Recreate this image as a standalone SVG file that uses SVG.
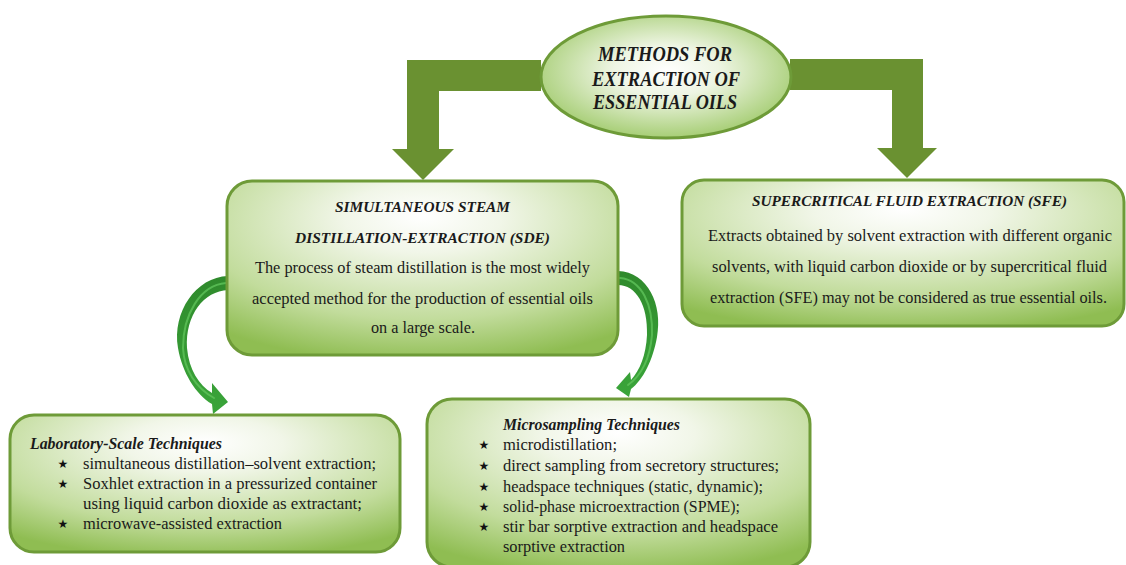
<svg xmlns="http://www.w3.org/2000/svg" width="1126" height="565" viewBox="0 0 1126 565">
<defs>
<radialGradient id="boxGrad" cx="0.5" cy="0.25" r="0.8" fx="0.5" fy="0.2">
<stop offset="0" stop-color="#ffffff"/>
<stop offset="0.25" stop-color="#f1f6e8"/>
<stop offset="0.7" stop-color="#c2dc9c"/>
<stop offset="1" stop-color="#8fbd52"/>
</radialGradient>
<radialGradient id="ellGrad" cx="0.5" cy="0.45" r="0.6">
<stop offset="0" stop-color="#ffffff"/>
<stop offset="0.35" stop-color="#eef5e3"/>
<stop offset="1" stop-color="#9cc865"/>
</radialGradient>
<linearGradient id="curveGrad" x1="0" y1="0" x2="0" y2="1">
<stop offset="0" stop-color="#2f8a2c"/>
<stop offset="1" stop-color="#3aa53a"/>
</linearGradient>
<style>
.box{fill:url(#boxGrad);stroke:#6e9b38;stroke-width:3}
.blk{fill:#6a9131}
.curve{fill:url(#curveGrad)}
.hl{fill:none;stroke:#5fc35a;stroke-width:2;stroke-linecap:round;opacity:0.8}
.t{font-family:"Liberation Serif","Times New Roman",serif;fill:#1a1a1a}
.ttl{font-weight:bold;font-style:italic}
.c{text-anchor:middle}
.star{font-family:"DejaVu Sans",sans-serif;font-size:12px;fill:#111;text-anchor:middle}
</style>
</defs>

<g id="connectors">
<path class="blk" d="M541 60 L407 60 L407 149 L392 149 L423 180 L454 149 L439 149 L439 91 L541 91 Z"/>
<path class="blk" d="M790 59 L923 59 L923 148 L937 148 L907 178 L877 148 L892 148 L892 90 L790 90 Z"/>
<path class="curve" d="M228 276 C196 277 172 312 178 348 C182 372 196 395 212 404 L213 414 L228 402 L212 383 L212 393 C199 385 189 370 187 348 C185 315 204 291 228 290 Z"/>
<path class="hl" d="M226 283 C200 285 183 315 183 348 C184 370 196 388 214 398"/>
<path class="curve" d="M618 271 C648 272 663 305 657 337 C653 360 643 380 631 389 L629 397 L616 388 L630 372 L631 380 C640 370 646 355 647 335 C648 305 636 285 618 285 Z"/>
<path class="hl" d="M620 278 C642 280 653 305 652 335 C650 358 642 375 628 385"/>
</g>

<g id="node-methods">
<ellipse cx="666" cy="77" rx="125" ry="61" fill="url(#ellGrad)" stroke="#6e9b38" stroke-width="3"/>
<text class="t ttl c" font-size="20" x="665" y="61" textLength="134" lengthAdjust="spacingAndGlyphs">METHODS FOR</text>
<text class="t ttl c" font-size="20" x="666" y="86" textLength="148" lengthAdjust="spacingAndGlyphs">EXTRACTION OF</text>
<text class="t ttl c" font-size="20" x="665" y="109" textLength="144" lengthAdjust="spacingAndGlyphs">ESSENTIAL OILS</text>
</g>

<g id="node-sde">
<rect class="box" x="227" y="181" width="391" height="174" rx="25"/>
<text class="t ttl c" font-size="15" x="422.5" y="212" textLength="175" lengthAdjust="spacingAndGlyphs">SIMULTANEOUS STEAM</text>
<text class="t ttl c" font-size="15" x="422.5" y="243" textLength="255" lengthAdjust="spacingAndGlyphs">DISTILLATION-EXTRACTION (SDE)</text>
<text class="t c" font-size="16" x="422.5" y="273" textLength="335" lengthAdjust="spacingAndGlyphs">The process of steam distillation is the most widely</text>
<text class="t c" font-size="16" x="422.5" y="304" textLength="341" lengthAdjust="spacingAndGlyphs">accepted method for the production of essential oils</text>
<text class="t c" font-size="16" x="423" y="333" textLength="104" lengthAdjust="spacingAndGlyphs">on a large scale.</text>
</g>

<g id="node-sfe">
<rect class="box" x="682" y="180" width="442" height="146" rx="22"/>
<text class="t ttl c" font-size="15" x="909.5" y="206" textLength="315" lengthAdjust="spacingAndGlyphs">SUPERCRITICAL FLUID EXTRACTION (SFE)</text>
<text class="t c" font-size="16" x="910" y="241" textLength="404" lengthAdjust="spacingAndGlyphs">Extracts obtained by solvent extraction with different organic</text>
<text class="t c" font-size="16" x="909.5" y="272" textLength="395" lengthAdjust="spacingAndGlyphs">solvents, with liquid carbon dioxide or by supercritical fluid</text>
<text class="t c" font-size="16" x="908.5" y="303" textLength="397" lengthAdjust="spacingAndGlyphs">extraction (SFE) may not be considered as true essential oils.</text>
</g>

<g id="node-lab">
<rect class="box" x="10" y="415" width="390" height="137" rx="24"/>
<text class="t ttl" font-size="16" x="30" y="449" textLength="192" lengthAdjust="spacingAndGlyphs">Laboratory-Scale Techniques</text>
<text class="star" x="63" y="468">★</text>
<text class="t" font-size="16" x="83" y="469" textLength="293" lengthAdjust="spacingAndGlyphs">simultaneous distillation–solvent extraction;</text>
<text class="star" x="63" y="488">★</text>
<text class="t" font-size="16" x="83" y="489" textLength="294" lengthAdjust="spacingAndGlyphs">Soxhlet extraction in a pressurized container</text>
<text class="t" font-size="16" x="83" y="509" textLength="279" lengthAdjust="spacingAndGlyphs">using liquid carbon dioxide as extractant;</text>
<text class="star" x="63" y="528">★</text>
<text class="t" font-size="16" x="83" y="529" textLength="199" lengthAdjust="spacingAndGlyphs">microwave-assisted extraction</text>
</g>

<g id="node-micro">
<rect class="box" x="427" y="399" width="383" height="168" rx="25"/>
<text class="t ttl" font-size="16" x="503" y="430" textLength="177" lengthAdjust="spacingAndGlyphs">Microsampling Techniques</text>
<text class="star" x="484" y="449">★</text>
<text class="t" font-size="16" x="503" y="450" textLength="114" lengthAdjust="spacingAndGlyphs">microdistillation;</text>
<text class="star" x="484" y="470">★</text>
<text class="t" font-size="16" x="503" y="471" textLength="276" lengthAdjust="spacingAndGlyphs">direct sampling from secretory structures;</text>
<text class="star" x="484" y="491">★</text>
<text class="t" font-size="16" x="503" y="492" textLength="260" lengthAdjust="spacingAndGlyphs">headspace techniques (static, dynamic);</text>
<text class="star" x="484" y="511">★</text>
<text class="t" font-size="16" x="503" y="512" textLength="237" lengthAdjust="spacingAndGlyphs">solid-phase microextraction (SPME);</text>
<text class="star" x="484" y="531">★</text>
<text class="t" font-size="16" x="503" y="532" textLength="275" lengthAdjust="spacingAndGlyphs">stir bar sorptive extraction and headspace</text>
<text class="t" font-size="16" x="503" y="552" textLength="122" lengthAdjust="spacingAndGlyphs">sorptive extraction</text>
</g>
</svg>
